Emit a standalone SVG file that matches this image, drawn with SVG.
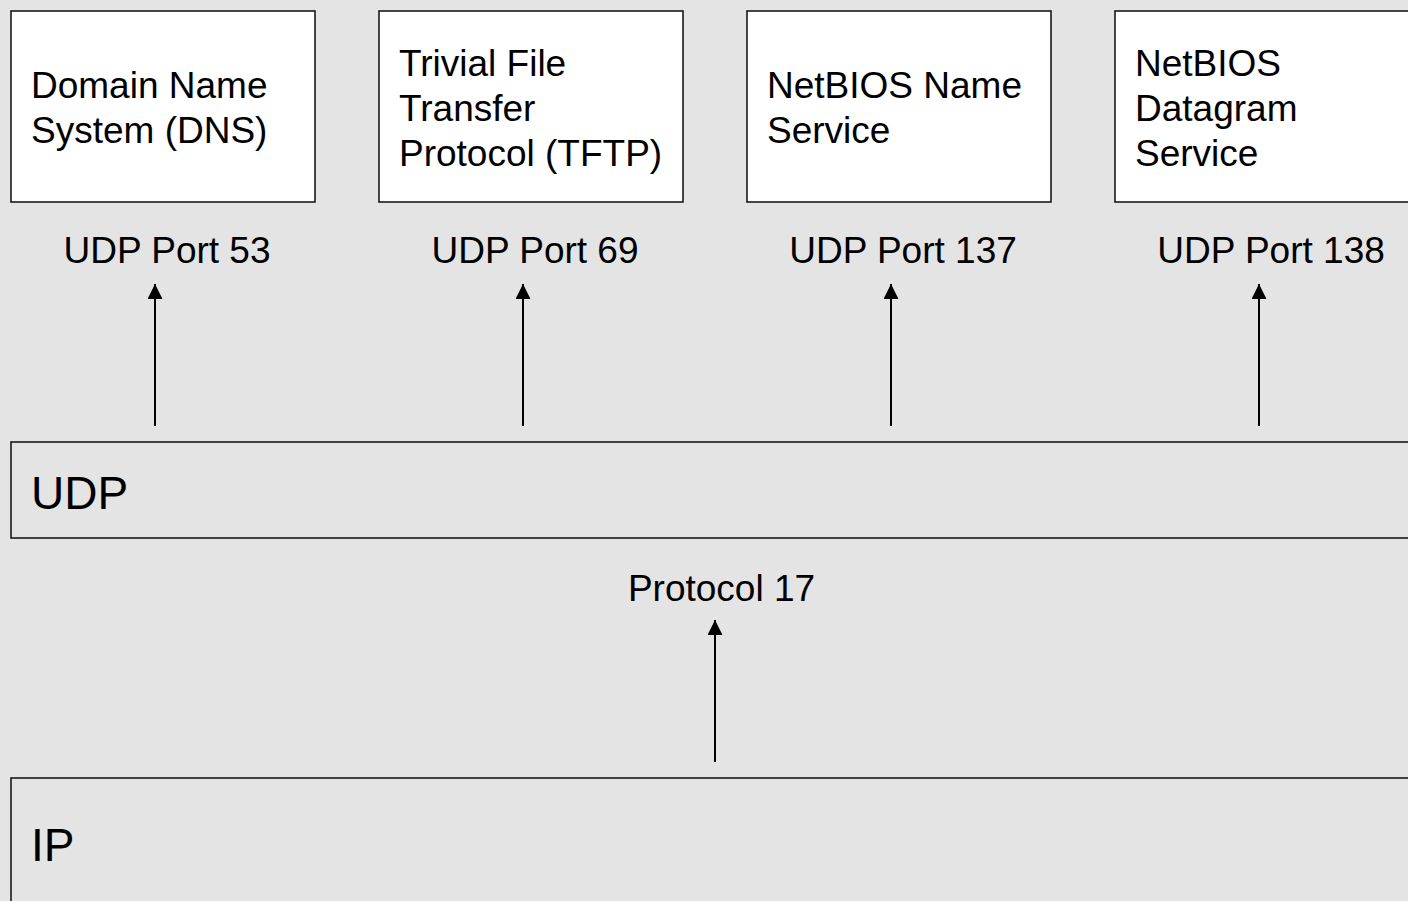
<svg xmlns="http://www.w3.org/2000/svg" width="1408" height="901" viewBox="0 0 1408 901">
<style>
.box{fill:#ffffff;stroke:#1a1a1a;stroke-width:1.6}
.band{fill:none;stroke:#1a1a1a;stroke-width:1.6}
.t{font-family:"Liberation Sans",Arial,sans-serif;font-size:37px;fill:#000}
.big{font-family:"Liberation Sans",Arial,sans-serif;font-size:46px;fill:#000}
.c{text-anchor:middle}
.conn{stroke:#000;stroke-width:2;fill:none;marker-end:url(#ah)}
</style>
<defs>
<marker id="ah" viewBox="0 0 10 10" refX="10" refY="5" markerWidth="8" markerHeight="7.5" markerUnits="strokeWidth" orient="auto">
<path d="M0,0 L10,5 L0,10 Z" fill="#000"/>
</marker>
</defs>
<rect width="1408" height="901" fill="#e4e4e4"/>
<g id="dns">
<rect class="box" x="11" y="11" width="304" height="191"/>
<text class="t" x="31" y="98">Domain Name</text>
<text class="t" x="31" y="143">System (DNS)</text>
</g>
<g id="tftp">
<rect class="box" x="379" y="11" width="304" height="191"/>
<text class="t" x="399" y="76">Trivial File</text>
<text class="t" x="399" y="121">Transfer</text>
<text class="t" x="399" y="166">Protocol (TFTP)</text>
</g>
<g id="nbns">
<rect class="box" x="747" y="11" width="304" height="191"/>
<text class="t" x="767" y="98">NetBIOS Name</text>
<text class="t" x="767" y="143">Service</text>
</g>
<g id="nbds">
<rect class="box" x="1115" y="11" width="304" height="191"/>
<text class="t" x="1135" y="76">NetBIOS</text>
<text class="t" x="1135" y="121">Datagram</text>
<text class="t" x="1135" y="166">Service</text>
</g>
<g id="udp">
<rect class="band" x="11" y="442" width="1410" height="96"/>
<text class="big" x="31" y="509">UDP</text>
</g>
<g id="ip">
<rect class="band" x="11" y="778" width="1410" height="140"/>
<text class="big" x="31" y="861">IP</text>
</g>
<g id="labels">
<text class="t c" x="167" y="263">UDP Port 53</text>
<text class="t c" x="535" y="263">UDP Port 69</text>
<text class="t c" x="903" y="263">UDP Port 137</text>
<text class="t c" x="1271" y="263">UDP Port 138</text>
<text class="t c" x="721.5" y="601">Protocol 17</text>
</g>
<g id="connectors">
<line class="conn" x1="155" y1="426" x2="155" y2="284"/>
<line class="conn" x1="523" y1="426" x2="523" y2="284"/>
<line class="conn" x1="891" y1="426" x2="891" y2="284"/>
<line class="conn" x1="1259" y1="426" x2="1259" y2="284"/>
<line class="conn" x1="715" y1="762" x2="715" y2="620"/>
</g>
</svg>
